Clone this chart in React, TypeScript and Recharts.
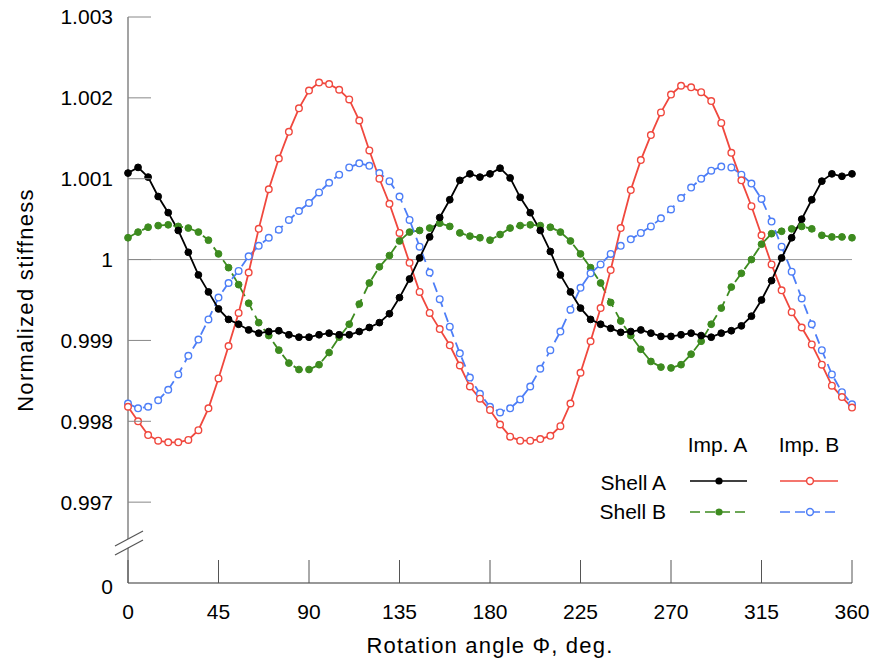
import React from 'react';
import { LineChart, Line, XAxis, YAxis, ReferenceLine } from 'recharts';

// ---- Data ----
const angles = [
  0, 5, 10, 15, 20, 25, 30, 35, 40, 45,
  50, 55, 60, 65, 70, 75, 80, 85, 90, 95,
  100, 105, 110, 115, 120, 125, 130, 135, 140, 145,
  150, 155, 160, 165, 170, 175, 180, 185, 190, 195,
  200, 205, 210, 215, 220, 225, 230, 235, 240, 245,
  250, 255, 260, 265, 270, 275, 280, 285, 290, 295,
  300, 305, 310, 315, 320, 325, 330, 335, 340, 345,
  350, 355, 360,
];

// Shell A, Imp. A (black, solid, filled dots)
const shellAImpA = [
  1.00107, 1.00114, 1.00102, 1.00078, 1.00058, 1.00036, 1.00009, 0.99981, 0.9996, 0.99939,
  0.99926, 0.9992, 0.99913, 0.99909, 0.99911, 0.99912, 0.99907, 0.99904, 0.99904, 0.99907,
  0.99909, 0.99907, 0.99907, 0.99911, 0.99916, 0.99922, 0.99933, 0.99953, 0.99976, 1.00002,
  1.00028, 1.00052, 1.00074, 1.00098, 1.00106, 1.00102, 1.00106, 1.00113, 1.00101, 1.00077,
  1.00058, 1.00036, 1.0001, 0.99981, 0.9996, 0.9994, 0.99926, 0.9992, 0.99915, 0.9991,
  0.99911, 0.99913, 0.99909, 0.99905, 0.99905, 0.99907, 0.99909, 0.99906, 0.99904, 0.99909,
  0.99912, 0.99918, 0.9993, 0.9995, 0.99974, 1.00002, 1.00027, 1.0005, 1.00074, 1.00097,
  1.00106, 1.00103, 1.00106,
];

// Shell A, Imp. B (red, solid, open dots)
const shellAImpB = [
  0.99818, 0.998, 0.99783, 0.99776, 0.99774, 0.99774, 0.99777, 0.99789, 0.99816, 0.99853,
  0.99893, 0.99934, 0.99984, 1.00038, 1.00087, 1.00125, 1.00158, 1.00187, 1.00209, 1.00219,
  1.00217, 1.0021, 1.00198, 1.00172, 1.00135, 1.001, 1.00069, 1.00033, 0.99996, 0.9996,
  0.99934, 0.99914, 0.99894, 0.99869, 0.99843, 0.99828, 0.99814, 0.99796, 0.99781, 0.99776,
  0.99776, 0.99778, 0.99782, 0.99794, 0.99822, 0.9986, 0.99899, 0.9994, 0.99987, 1.00039,
  1.00086, 1.00123, 1.00154, 1.00182, 1.00204, 1.00215, 1.00213, 1.00207, 1.00196, 1.00169,
  1.00132, 1.00098, 1.00066, 1.0003, 0.99994, 0.99962, 0.99935, 0.99916, 0.99895, 0.9987,
  0.99844, 0.9983, 0.99817,
];

// Shell B, Imp. A (green, dashed, filled dots)
const shellBImpA = [
  1.00027, 1.00034, 1.0004, 1.00042, 1.00043, 1.00041, 1.00039, 1.00034, 1.00024, 1.00007,
  0.9999, 0.99969, 0.99946, 0.99922, 0.99906, 0.99888, 0.99872, 0.99864, 0.99864, 0.9987,
  0.99885, 0.99904, 0.9992, 0.99945, 0.99971, 0.99991, 1.00005, 1.00023, 1.00034, 1.00036,
  1.00039, 1.00045, 1.00041, 1.00033, 1.00029, 1.00027, 1.00024, 1.00031, 1.00039, 1.00042,
  1.00043, 1.00042, 1.0004, 1.00034, 1.00023, 1.00007, 0.9999, 0.99971, 0.99947, 0.99924,
  0.99906, 0.99889, 0.99874, 0.99867, 0.99866, 0.9987, 0.99883, 0.99899, 0.9992, 0.9994,
  0.99966, 0.99983, 1.0, 1.00019, 1.00032, 1.00035, 1.00038, 1.00041, 1.00038, 1.0003,
  1.00028, 1.00028, 1.00027,
];

// Shell B, Imp. B (blue, dashed, open dots)
const shellBImpB = [
  0.99822, 0.99816, 0.99818, 0.99826, 0.99839, 0.99858, 0.99881, 0.99901, 0.99926, 0.99953,
  0.99971, 0.99986, 1.00004, 1.00017, 1.00027, 1.00037, 1.00049, 1.0006, 1.0007, 1.00083,
  1.00095, 1.00105, 1.00114, 1.00119, 1.00116, 1.00107, 1.00097, 1.00078, 1.00049, 1.00016,
  0.99984, 0.99951, 0.99917, 0.99884, 0.99854, 0.99834, 0.99818, 0.99811, 0.99816, 0.99827,
  0.99843, 0.99865, 0.99888, 0.99911, 0.99938, 0.99965, 0.99983, 0.99994, 1.00007, 1.00017,
  1.00025, 1.00033, 1.00041, 1.00051, 1.00062, 1.00076, 1.00089, 1.001, 1.0011, 1.00115,
  1.00114, 1.00105, 1.00094, 1.00075, 1.00047, 1.00016, 0.99985, 0.99952, 0.9992, 0.99888,
  0.99858, 0.99836, 0.99821,
];

const xTicks = [0, 45, 90, 135, 180, 225, 270, 315, 360];
// the lowest tick stands for the broken-axis "0"
const yTicks = [0.996, 0.997, 0.998, 0.999, 1, 1.001, 1.002, 1.003];

const data = angles.map((a, i) => ({
  angle: a,
  sAiA: shellAImpA[i],
  sAiB: shellAImpB[i],
  sBiA: shellBImpA[i],
  sBiB: shellBImpB[i],
}));

// ---- Styles ----
const FONT = '"Liberation Sans", Arial, Helvetica, sans-serif';
const BLACK = '#000000';
const RED = '#f0483e';
const GREEN = '#3d8b1f';
const BLUE = '#4d7ef7';
const X_TICK_MARGIN = 21;
const Y_TICK_MARGIN = 15;
const TICK_LEN = 23;

const fmtY = (v: number) => {
  if (v < 0.9965) return '0';
  if (Math.abs(v - 1) < 1e-9) return '1';
  return v.toFixed(3);
};

const XTick = (props: any) => {
  const { x, y, payload } = props;
  const axisY = y - X_TICK_MARGIN;
  return (
    <g>
      <line x1={x} x2={x} y1={axisY} y2={axisY - TICK_LEN} stroke="#555" strokeWidth={1} />
      <text x={x} y={y} dy="0.71em" textAnchor="middle" fontSize={21} fontFamily={FONT} fill="#000">
        {payload.value}
      </text>
    </g>
  );
};

const YTick = (props: any) => {
  const { x, y, payload } = props;
  const axisX = x + Y_TICK_MARGIN;
  const v = payload.value as number;
  return (
    <g>
      {v > 0.9965 && (
        <line x1={axisX} x2={axisX + TICK_LEN} y1={y} y2={y} stroke="#888" strokeWidth={1} />
      )}
      <text x={x} y={y} dy={v < 0.9965 ? '0.5em' : '0.355em'} textAnchor="end" fontSize={21} fontFamily={FONT} fill="#000">
        {fmtY(v)}
      </text>
    </g>
  );
};

const Overlay = () => (
  <svg
    width={875}
    height={666}
    style={{ position: 'absolute', left: 0, top: 0, pointerEvents: 'none' }}
    fontFamily={FONT}
  >
    {/* axis break */}
    <polygon points="124,541 133,536.1 133,544.8 124,549.9" fill="#fff" />
    <line x1={115} y1={546} x2={143} y2={531} stroke="#555" strokeWidth={1.2} />
    <line x1={115} y1={555} x2={143} y2={540} stroke="#555" strokeWidth={1.2} />

    {/* legend */}
    <text x={717.5} y={452} textAnchor="middle" fontSize={21} fill="#000">Imp. A</text>
    <text x={809} y={452} textAnchor="middle" fontSize={21} fill="#000">Imp. B</text>
    <text x={666} y={490} textAnchor="end" fontSize={21} fill="#000">Shell A</text>
    <text x={666} y={519} textAnchor="end" fontSize={21} fill="#000">Shell B</text>

    <line x1={690} x2={747} y1={481} y2={481} stroke={BLACK} strokeWidth={1.6} />
    <circle cx={719} cy={481} r={3.6} fill={BLACK} />
    <line x1={780} x2={838} y1={481} y2={481} stroke={RED} strokeWidth={1.6} />
    <circle cx={810} cy={481} r={3.4} fill="#fff" stroke={RED} strokeWidth={1.5} />

    <line x1={690} x2={747} y1={512} y2={512} stroke={GREEN} strokeWidth={1.6} strokeDasharray="10 5" />
    <circle cx={719} cy={512} r={3.6} fill={GREEN} />
    <line x1={780} x2={838} y1={512} y2={512} stroke={BLUE} strokeWidth={1.6} strokeDasharray="10 5" />
    <circle cx={810} cy={512} r={3.4} fill="#fff" stroke={BLUE} strokeWidth={1.5} />
  </svg>
);

export default function App() {
  return (
    <div
      style={{
        position: 'absolute',
        left: 0,
        top: 0,
        width: 875,
        height: 666,
        background: '#fff',
        overflow: 'hidden',
      }}
    >
      <LineChart
        width={875}
        height={666}
        data={data}
        margin={{ top: 17, right: 23, left: 0, bottom: 0 }}
      >
        <XAxis
          dataKey="angle"
          type="number"
          domain={[0, 360]}
          ticks={xTicks}
          interval={0}
          height={83}
          tickSize={0}
          tickMargin={X_TICK_MARGIN}
          tick={<XTick />}
          axisLine={{ stroke: '#333', strokeWidth: 1.2 }}
          tickLine={false}
          label={{
            value: 'Rotation angle \u03A6, deg.',
            position: 'insideBottom',
            offset: 13,
            style: { fontSize: 22, fontFamily: FONT, fill: '#000', letterSpacing: 1.2 },
          }}
        />
        <YAxis
          type="number"
          domain={[0.996, 1.003]}
          ticks={yTicks}
          interval={0}
          width={128}
          tickSize={0}
          tickMargin={Y_TICK_MARGIN}
          tick={<YTick />}
          axisLine={{ stroke: '#666', strokeWidth: 1.2 }}
          tickLine={false}
          allowDataOverflow
          label={{
            value: 'Normalized stiffness',
            angle: -90,
            position: 'insideLeft',
            offset: 25,
            style: { textAnchor: 'middle', fontSize: 22, fontFamily: FONT, fill: '#000', letterSpacing: 1.3 },
          }}
        />
        <ReferenceLine y={1} stroke="#999" strokeWidth={1} ifOverflow="extendDomain" />
        <Line
          type="linear"
          dataKey="sBiA"
          stroke={GREEN}
          strokeWidth={1.8}
          strokeDasharray="10 6"
          dot={{ r: 3.4, fill: GREEN, stroke: GREEN, strokeWidth: 1, strokeDasharray: 'none' }}
          isAnimationActive={false}
        />
        <Line
          type="linear"
          dataKey="sBiB"
          stroke={BLUE}
          strokeWidth={1.8}
          strokeDasharray="10 6"
          dot={{ r: 3.3, fill: '#fff', stroke: BLUE, strokeWidth: 1.4, strokeDasharray: 'none' }}
          isAnimationActive={false}
        />
        <Line
          type="linear"
          dataKey="sAiB"
          stroke={RED}
          strokeWidth={1.8}
          dot={{ r: 3.3, fill: '#fff', stroke: RED, strokeWidth: 1.4 }}
          isAnimationActive={false}
        />
        <Line
          type="linear"
          dataKey="sAiA"
          stroke={BLACK}
          strokeWidth={1.8}
          dot={{ r: 3.4, fill: BLACK, stroke: BLACK, strokeWidth: 1 }}
          isAnimationActive={false}
        />
      </LineChart>
      <Overlay />
    </div>
  );
}
